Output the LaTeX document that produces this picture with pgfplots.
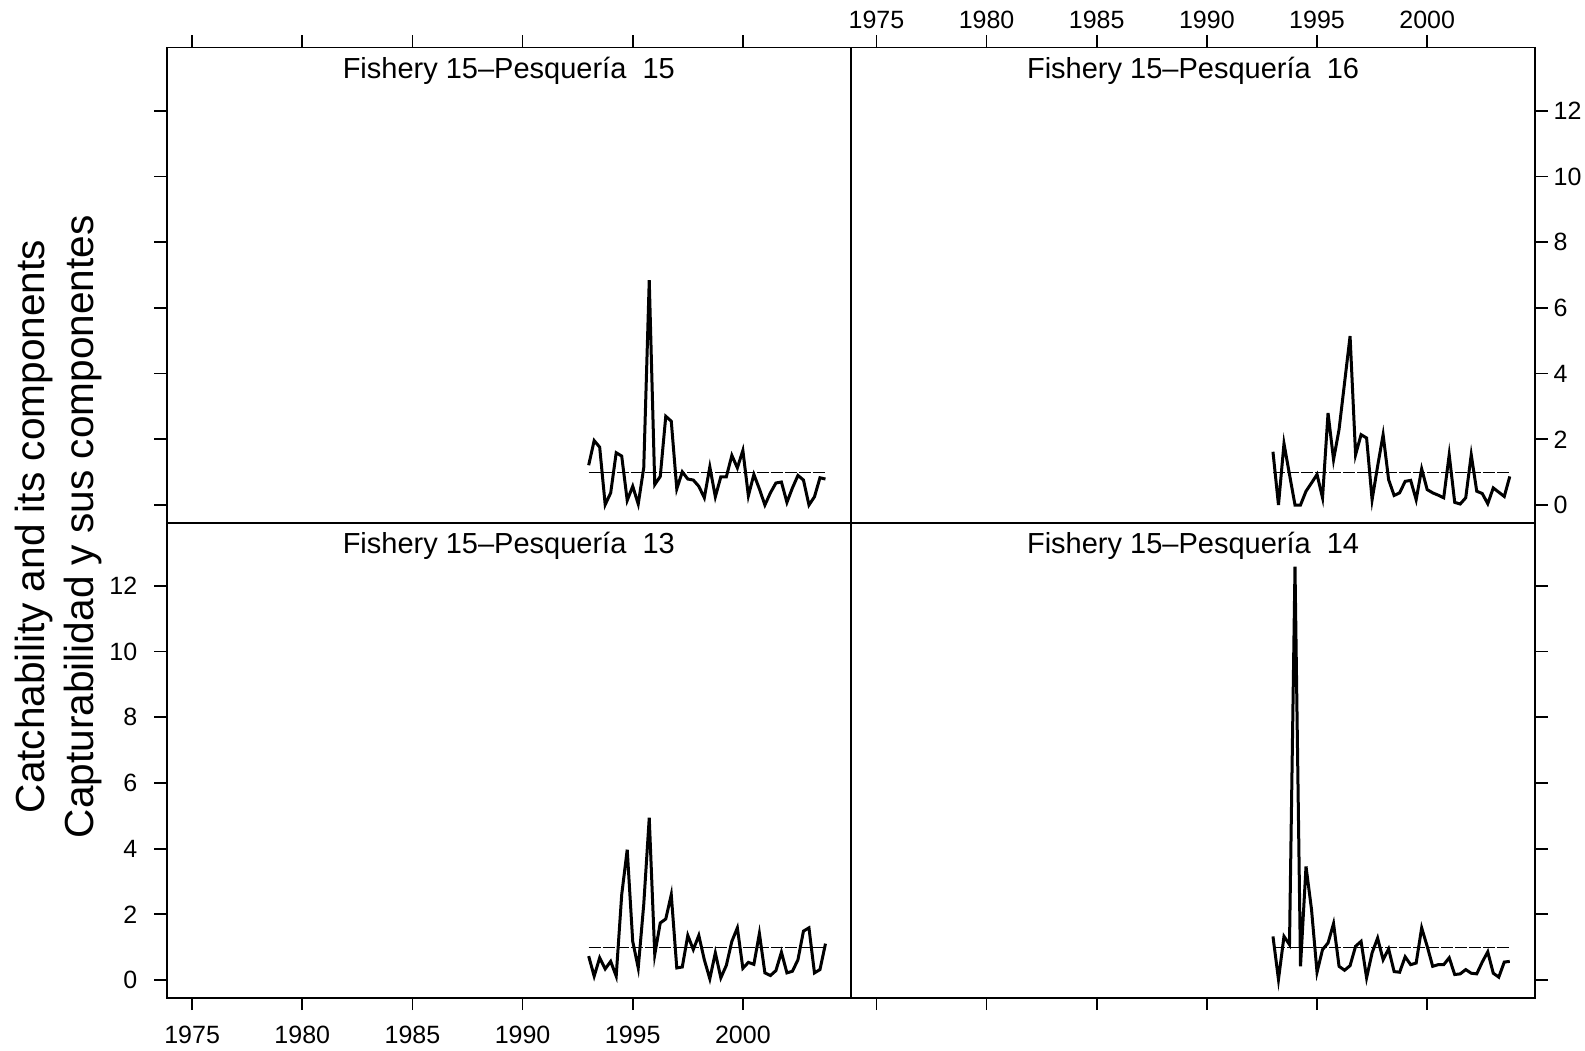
\documentclass[border=0pt]{standalone}
\usepackage{fontspec}
\setmainfont{Liberation Sans}
\usepackage{pgfplots}
\pgfplotsset{compat=1.18}

% quarterly catchability deviations, 1993.00 -- 2003.75
\pgfplotstableread{
x       p15   p16   p13   p14
1993.00 1.21  1.62  0.73  1.33
1993.25 1.96  0.00  0.12  0.02
1993.50 1.76  1.87  0.68  1.33
1993.75 0.01  0.93  0.34  1.08
1994.00 0.37  0.00  0.57  12.58
1994.25 1.59  0.00  0.12  0.42
1994.50 1.49  0.42  2.60  3.46
1994.75 0.14  0.67  3.97  2.15
1995.00 0.57  0.93  1.18  0.24
1995.25 0.03  0.22  0.37  0.93
1995.50 1.13  2.80  2.30  1.13
1995.75 6.84  1.38  4.94  1.72
1996.00 0.62  2.30  0.78  0.42
1996.25 0.87  3.72  1.74  0.30
1996.50 2.70  5.14  1.86  0.44
1996.75 2.55  1.53  2.60  1.03
1997.00 0.49  2.14  0.37  1.18
1997.25 1.01  2.04  0.40  0.07
1997.50 0.79  0.16  1.36  0.83
1997.75 0.76  1.18  0.93  1.28
1998.00 0.57  2.14  1.36  0.62
1998.25 0.22  0.77  0.62  0.95
1998.50 1.16  0.29  0.04  0.26
1998.75 0.25  0.37  0.83  0.24
1999.00 0.86  0.72  0.07  0.71
1999.25 0.86  0.75  0.45  0.47
1999.50 1.51  0.16  1.18  0.52
1999.75 1.13  1.10  1.59  1.59
2000.00 1.66  0.47  0.36  1.03
2000.25 0.28  0.37  0.54  0.42
2000.50 0.93  0.30  0.48  0.47
2000.75 0.49  0.22  1.42  0.47
2001.00 0.00  1.53  0.22  0.68
2001.25 0.37  0.08  0.14  0.17
2001.50 0.67  0.03  0.29  0.19
2001.75 0.70  0.22  0.85  0.32
2002.00 0.08  1.53  0.22  0.21
2002.25 0.52  0.42  0.27  0.19
2002.50 0.90  0.35  0.62  0.55
2002.75 0.76  0.04  1.49  0.86
2003.00 0.00  0.52  1.59  0.21
2003.25 0.25  0.39  0.22  0.09
2003.50 0.83  0.26  0.32  0.55
2003.75 0.79  0.87  1.11  0.57
}\qdata

\pgfplotsset{
  panel/.style={
    scale only axis, width=342pt, height=237.5pt,
    anchor=south west,
    xmin=1973.85, xmax=2004.9, ymin=-0.535, ymax=13.92,
    xtick={1975,1980,...,2000}, ytick={0,2,...,12},
    tick align=outside, major tick length=6.25pt,
    axis line style={line width=0.9pt},
    every tick/.style={black, line width=0.9pt},
    tick label style={font=\fontsize{12.5}{14}\selectfont},
    /pgf/number format/assume math mode=true,
    /pgf/number format/1000 sep={},
  },
  nolabels/.style={xticklabels={,,,,,}, yticklabels={,,,,,,}},
  series/.style={black, line width=1.5pt, no markers},
  refline/.style={black, line width=0.6pt, dash pattern=on 6pt off 1pt, no markers},
}
\newcommand{\paneltitle}[1]{\node[anchor=base, font=\fontsize{14.5}{17}\selectfont]
  at (rel axis cs:0.5,1) [yshift=-15.5pt] {Fishery 15–Pesquería\ \ #1};}

\begin{document}
\begin{tikzpicture}
\useasboundingbox (0,0) rectangle (792.5pt,525pt);

% top left
\begin{axis}[panel, nolabels, at={(83.4pt,263.7pt)},
    xtick pos=right, ytick pos=left]
  \addplot[refline] coordinates {(1993,1) (2003.75,1)};
  \addplot[series] table[x=x, y=p15] {\qdata};
  \paneltitle{15}
\end{axis}

% top right
\begin{axis}[panel, at={(425.55pt,263.7pt)},
    xtick pos=right, xticklabel pos=right, ytick pos=right, yticklabel pos=right,
    xticklabel shift=-0.5pt, yticklabel shift=-0.5pt]
  \addplot[refline] coordinates {(1993,1) (2003.75,1)};
  \addplot[series] table[x=x, y=p16] {\qdata};
  \paneltitle{16}
\end{axis}

% bottom left
\begin{axis}[panel, at={(83.4pt,26.15pt)},
    xtick pos=left, xticklabel pos=left, ytick pos=left, yticklabel pos=left,
    xticklabel shift=4.5pt, yticklabel shift=5pt]
  \addplot[refline] coordinates {(1993,1) (2003.75,1)};
  \addplot[series] table[x=x, y=p13] {\qdata};
  \paneltitle{13}
\end{axis}

% bottom right
\begin{axis}[panel, nolabels, at={(425.55pt,26.15pt)},
    xtick pos=left, ytick pos=right]
  \addplot[refline] coordinates {(1993,1) (2003.75,1)};
  \addplot[series] table[x=x, y=p14] {\qdata};
  \paneltitle{14}
\end{axis}

\node[rotate=90, anchor=base, font=\fontsize{20.3}{24}\selectfont]
  at (22.4pt,261.7pt) {Catchability and its components};
\node[rotate=90, anchor=base, font=\fontsize{20.3}{24}\selectfont]
  at (46.9pt,261.7pt) {Capturabilidad y sus componentes};
\end{tikzpicture}
\end{document}
